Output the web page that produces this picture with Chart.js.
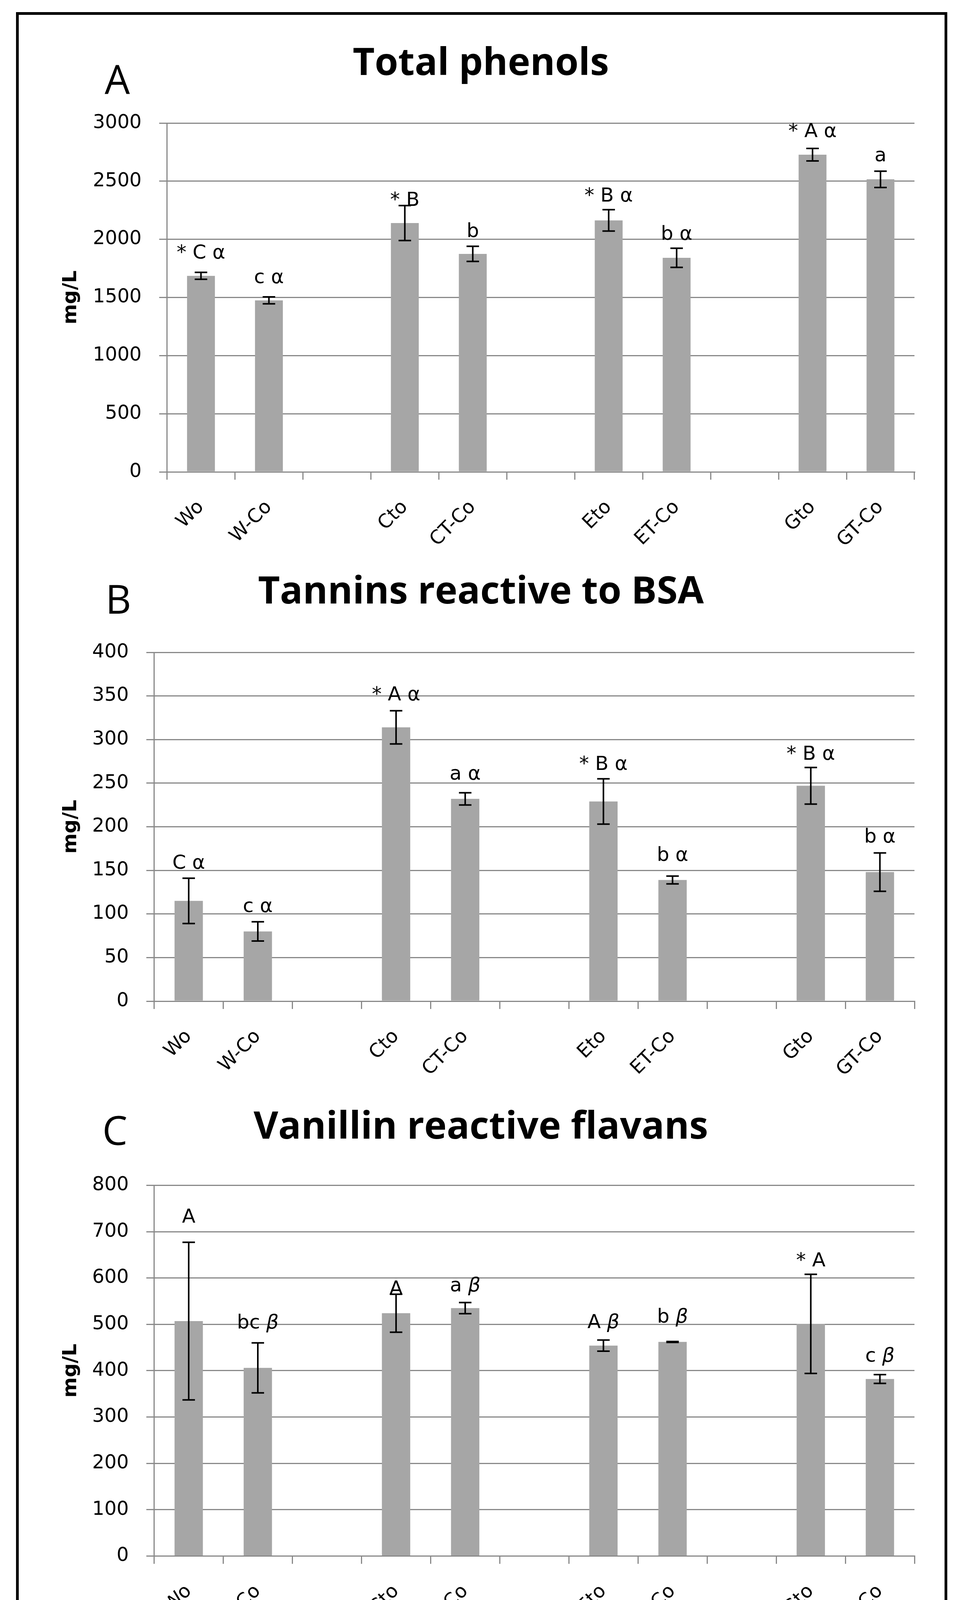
<!DOCTYPE html>
<html>
<head>
<meta charset="utf-8">
<script src="https://cdn.jsdelivr.net/npm/chart.js@4.4.1/dist/chart.umd.min.js"></script>
<style>
  html, body { margin: 0; padding: 0; background: #fff; }
  body { width: 2455px; height: 4282px; position: relative; overflow: hidden; }
  #frame { position: absolute; left: 41px; top: 31px; width: 2370px; height: 4203px; border: 7px solid #000; }
  .panel { position: absolute; left: 121px; width: 2240px; }
  .letter { position: absolute; font-family: "Open Sans", sans-serif; font-size: 102px; line-height: 1; color: #000; }
</style>
</head>
<body>
<div id="frame"></div>
<div class="letter" style="left:268px; top:150px">A</div>
<div class="letter" style="left:270px; top:1481px">B</div>
<div class="letter" style="left:262px; top:2841px">C</div>
<div class="panel" style="top:40px; height:1390px"><canvas id="chartA"></canvas></div>
<div class="panel" style="top:1410px; height:1390px"><canvas id="chartB"></canvas></div>
<div class="panel" style="top:2800px; height:1436px"><canvas id="chartC"></canvas></div>
<script>
// categories (blank slots separate the wine groups)
const categories = ["Wo", "W-Co", "", "Cto", "CT-Co", "", "Eto", "ET-Co", "", "Gto", "GT-Co"];

// A - total phenols
const phenolsMean = [1686, 1475, null, 2140, 1875, null, 2163, 1841, null, 2728, 2516];
const phenolsErr = [30, 30, null, 150, 65, null, 92, 82, null, 54, 70];
const phenolsTicks = [0, 500, 1000, 1500, 2000, 2500, 3000];
const phenolsLetters = ["* C", "c", "", "* B", "b", "", "* B", "b", "", "* A", "a"];
const phenolsGreek = ["α", "α", "", "", "", "", "α", "α", "", "α", ""];
const phenolsLabelAt = [1834, 1623, null, 2288, 2019, null, 2325, 1995, null, 2879, 2672];

// B - tannins reactive to BSA
const tanninsMean = [115, 80, null, 314, 232, null, 229, 139, null, 247, 148];
const tanninsErr = [26, 11, null, 19, 7, null, 26, 4.5, null, 21, 22];
const tanninsTicks = [0, 50, 100, 150, 200, 250, 300, 350, 400];
const tanninsLetters = ["C", "c", "", "* A", "a", "", "* B", "b", "", "* B", "b"];
const tanninsGreek = ["α", "α", "", "α", "α", "", "α", "α", "", "α", "α"];
const tanninsLabelAt = [152, 102, null, 345, 254, null, 265, 161, null, 277, 182];

// C - vanillin reactive flavans
const flavansMean = [507, 406, null, 524, 535, null, 454, 462, null, 501, 382];
const flavansErr = [170, 54, null, 41, 12, null, 12, 1, null, 107, 9.5];
const flavansTicks = [0, 100, 200, 300, 400, 500, 600, 700, 800];
const flavansLetters = ["A", "bc", "", "A", "a", "", "A", "b", "", "* A", "c"];
const flavansGreek = ["", "β", "", "", "β", "", "β", "β", "", "", "β"];
const flavansLabelAt = [719, 491, null, 564, 571, null, 492, 504, null, 625, 419];

const GRID = "#898989";
const BAR = "#a6a6a6";
const TICK_FONT = { family: "DejaVu Sans", size: 49 };

// error bars + letter annotations, placed through the chart scales
const extrasPlugin = {
  id: "extras",
  afterDatasetsDraw(chart) {
    const { ctx, scales: { x, y } } = chart;
    const o = chart.options.plugins.extras;
    ctx.save();
    ctx.strokeStyle = "#000";
    ctx.lineWidth = 4;
    o.mean.forEach((v, i) => {
      if (v === null) return;
      const cx = x.getPixelForValue(i);
      const top = y.getPixelForValue(v + o.err[i]);
      const bot = y.getPixelForValue(v - o.err[i]);
      ctx.beginPath();
      ctx.moveTo(cx, top); ctx.lineTo(cx, bot);
      ctx.moveTo(cx - 16, top); ctx.lineTo(cx + 16, top);
      ctx.moveTo(cx - 16, bot); ctx.lineTo(cx + 16, bot);
      ctx.stroke();
    });
    ctx.fillStyle = "#000";
    ctx.textBaseline = "alphabetic";
    ctx.textAlign = "left";
    const plain = '50px "DejaVu Sans"';
    o.letters.forEach((txt, i) => {
      if (o.labelAt[i] === null) return;
      const g = o.greek[i];
      const gFont = g === "β" ? 'italic 50px "DejaVu Sans"' : plain;
      ctx.font = plain;
      const w1 = ctx.measureText(txt).width;
      const sp = g ? ctx.measureText(" ").width : 0;
      ctx.font = gFont;
      const w2 = g ? ctx.measureText(g).width : 0;
      const cx = x.getPixelForValue(i);
      const yy = y.getPixelForValue(o.labelAt[i]);
      let sx = cx - (w1 + sp + w2) / 2;
      ctx.font = plain;
      ctx.fillText(txt, sx, yy);
      if (g) {
        ctx.font = gFont;
        ctx.fillText(g, sx + w1 + sp, yy);
      }
    });
    ctx.restore();
  }
};

function makeChart(id, cfg) {
  return new Chart(document.getElementById(id), {
    type: "bar",
    data: {
      labels: categories,
      datasets: [{
        data: cfg.mean,
        backgroundColor: BAR,
        borderWidth: 0,
        categoryPercentage: 1,
        barPercentage: 0.41
      }]
    },
    plugins: [extrasPlugin],
    options: {
      responsive: true,
      maintainAspectRatio: false,
      animation: false,
      devicePixelRatio: 1,
      layout: { padding: { left: 0, right: 20, top: 0, bottom: 0 } },
      plugins: {
        legend: { display: false },
        tooltip: { enabled: false },
        title: {
          display: true,
          text: cfg.title,
          color: "#000",
          font: { family: "Open Sans", size: 97, weight: "bold", lineHeight: 1.2 },
          padding: { top: cfg.titleTop, bottom: cfg.titleBottom }
        },
        extras: {
          mean: cfg.mean, err: cfg.err, letters: cfg.letters,
          greek: cfg.greek, labelAt: cfg.labelAt
        }
      },
      scales: {
        x: {
          offset: true,
          grid: { display: true, drawOnChartArea: false, offset: true, color: GRID, lineWidth: 3, tickLength: 20 },
          border: { color: GRID, width: 3 },
          ticks: { color: "#000", font: TICK_FONT, minRotation: 45, maxRotation: 45, autoSkip: false, padding: 42 },
          afterFit(scale) { scale.height = cfg.xHeight; }
        },
        y: {
          min: cfg.ticks[0],
          max: cfg.ticks[cfg.ticks.length - 1],
          afterBuildTicks(scale) { scale.ticks = cfg.ticks.map((v) => ({ value: v })); },
          grid: { color: GRID, lineWidth: 3, tickLength: 20 },
          border: { color: GRID, width: 3 },
          ticks: { color: "#000", font: TICK_FONT, padding: 45, callback: (v) => String(v) },
          title: {
            display: true,
            text: "mg/L",
            color: "#000",
            font: { family: "DejaVu Sans", size: 50, weight: "bold", lineHeight: 1.2 },
            padding: { top: 31, bottom: 0 }
          },
          afterFit(scale) { scale.width = cfg.yWidth; }
        }
      }
    }
  });
}

// panel canvases start at x = 121, so axis widths are measured from there
makeChart("chartA", {
  title: "Total phenols", mean: phenolsMean, err: phenolsErr, ticks: phenolsTicks,
  letters: phenolsLetters, greek: phenolsGreek, labelAt: phenolsLabelAt,
  titleTop: 66, titleBottom: 92.6, yWidth: 306.5, xHeight: 222
});
makeChart("chartB", {
  title: "Tannins reactive to BSA", mean: tanninsMean, err: tanninsErr, ticks: tanninsTicks,
  letters: tanninsLetters, greek: tanninsGreek, labelAt: tanninsLabelAt,
  titleTop: 49, titleBottom: 94.6, yWidth: 273.6, xHeight: 237
});
makeChart("chartC", {
  title: "Vanillin reactive flavans", mean: flavansMean, err: flavansErr, ticks: flavansTicks,
  letters: flavansLetters, greek: flavansGreek, labelAt: flavansLabelAt,
  titleTop: 29, titleBottom: 89, yWidth: 273.6, xHeight: 252.6
});
</script>
</body>
</html>
